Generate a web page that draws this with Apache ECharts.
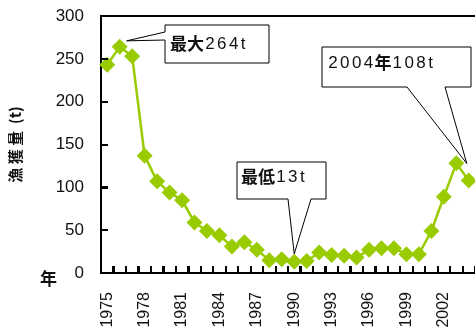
<!DOCTYPE html>
<html><head><meta charset="utf-8">
<script src="https://cdn.jsdelivr.net/npm/echarts@6/dist/echarts.min.js"></script>
<style>html,body{margin:0;padding:0;background:#fff}#c{width:475px;height:333px}</style>
</head><body><div id="c"></div>
<script>
const years = ['1975','1976','1977','1978','1979','1980','1981','1982','1983','1984','1985','1986','1987','1988','1989','1990','1991','1992','1993','1994','1995','1996','1997','1998','1999','2000','2001','2002','2003','2004'];
const catch_t = [243,264,253,137,107,94,85,59,49,44,31,36,27,15,16,13,14,24,21,20,18,27,29,29,22,22,49,89,128,108];
const yTicks = [0,50,100,150,200,250,300];
const yName = '漁 獲 量  (t)';
const xName = '年';

const LAT = 'Liberation Sans, Arial, sans-serif';
const CJK = 'Noto Sans CJK JP, sans-serif';

const chart = echarts.init(document.getElementById('c'));
chart.setOption({
  animation:false,
  grid:{left:99,top:16,right:-3,bottom:60},
  xAxis:[{type:'category',data:years,boundaryGap:true,position:'bottom',
    axisLine:{show:true,onZero:false,lineStyle:{color:'#000',width:2}},
    axisTick:{show:true,inside:true,length:7,interval:0,lineStyle:{color:'#000',width:2}},
    axisLabel:{show:true,rotate:90,interval:2,color:'#111',fontFamily:LAT,fontSize:16,margin:19}},
   {type:'category',data:years,position:'top',
    axisLine:{show:true,onZero:false,lineStyle:{color:'#000',width:2}},
    axisTick:{show:false},axisLabel:{show:false}}],
  yAxis:{type:'value',min:0,max:300,interval:50,
    axisLine:{show:true,onZero:false,lineStyle:{color:'#000',width:2}},
    axisTick:{show:true,inside:true,length:7,lineStyle:{color:'#000',width:2}},
    splitLine:{show:false},
    axisLabel:{color:'#111',fontFamily:LAT,fontSize:17,margin:17},
    name:yName,nameLocation:'middle',nameRotate:90,nameGap:78,
    nameTextStyle:{fontFamily:CJK,fontWeight:'bold',fontSize:15,color:'#111'}},
  series:[{type:'line',data:catch_t,symbol:'diamond',symbolSize:16,showAllSymbol:true,z:3,
    itemStyle:{color:'#99cc00'},lineStyle:{color:'#99cc00',width:2.5}}]
});

function richStr(parts){
  let s='';
  parts.forEach(p=>{
    if(p.b){ s+='{b|'+p.t+'}'; }
    else { for(const ch of p.t){ s+='{d|'+ch+'}'; } }
  });
  return s;
}
const rich = {
  b:{fontFamily:CJK,fontWeight:'bold',fontSize:17,fill:'#111'},
  d:{fontFamily:LAT,fontSize:17,fill:'#111',padding:[0,1.2,0,1.2]}
};
function callout(poly, textX, textY, parts){
  return [
    {type:'polygon',shape:{points:poly},style:{fill:'#fff',stroke:'#000',lineWidth:1},z:100},
    {type:'text',x:textX,y:textY,style:{text:richStr(parts),rich:rich,verticalAlign:'middle',fill:'#111'},z:101}
  ];
}
const px = (i,v)=>chart.convertToPixel({xAxisIndex:0,yAxisIndex:0},[i,v]);
const pMax = px(1,catch_t[1]);
const pMin = px(15,catch_t[15]);
const pEnd = px(29,catch_t[29]);
const tMax=[pMax[0]+7,pMax[1]-6], tMin=[pMin[0],pMin[1]-8], tEnd=[pEnd[0]-2,pEnd[1]-17];

let g=[];
const p0 = px(0,0), p1 = px(1,0);
const band = p1[0]-p0[0];
for(let i=1;i<=years.length;i++){
  const x = Math.round(p0[0] + (i-0.5)*band);
  g.push({type:'rect',shape:{x:x-1,y:p0[1]-7,width:2,height:7},style:{fill:'#000'},z:50});
}
yTicks.forEach(v=>{
  const y = Math.round(px(0,v)[1]);
  const xl = p0[0]-band/2;
  g.push({type:'rect',shape:{x:xl,y:y-1,width:7,height:2},style:{fill:'#000'},z:50});
});
g=g.concat(callout([[165,25],[269,25],[269,63],[165,63],[165,40],tMax,[165,32]],170,44,
  [{t:'最大',b:true},{t:'264t'}]));
g=g.concat(callout([[322,47],[471,47],[471,87],[445,87],tEnd,[407,87],[322,87]],327,63,
  [{t:'2004'},{t:'年',b:true},{t:'108t'}]));
g=g.concat(callout([[237,162],[326,162],[326,199],[311,199],tMin,[288,199],[237,199]],241,177,
  [{t:'最低',b:true},{t:'13t'}]));
g.push({type:'text',x:40,y:279,style:{text:xName,fontFamily:CJK,fontWeight:'bold',fontSize:17,fill:'#111',verticalAlign:'middle'},z:100});
chart.setOption({graphic:g});
</script>
</body></html>
